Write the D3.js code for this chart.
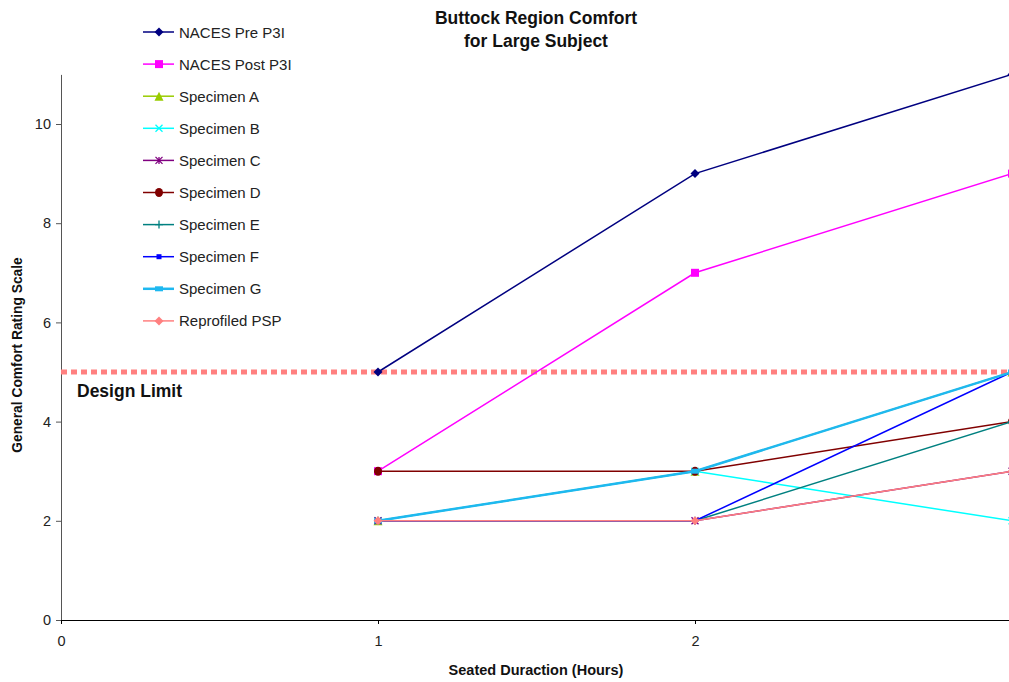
<!DOCTYPE html>
<html>
<head>
<meta charset="utf-8">
<script src="https://cdn.jsdelivr.net/npm/d3@7"></script>
<style>
  body { margin: 0; background: #fff; }
  svg { font-family: "Liberation Sans", Arial, sans-serif; }
</style>
</head>
<body>
<div id="chart"></div>
<script>
// ---- data ----
const hours = [1, 2, 3];
const seriesNames = ["NACES Pre P3I", "NACES Post P3I", "Specimen A", "Specimen B", "Specimen C",
                     "Specimen D", "Specimen E", "Specimen F", "Specimen G", "Reprofiled PSP"];
const nacesPre   = [5, 9, 11];
const nacesPost  = [3, 7, 9];
const specimenA  = [2, 3, 5];
const specimenB  = [2, 3, 2];
const specimenC  = [2, 2, 3];
const specimenD  = [3, 3, 4];
const specimenE  = [2, 2, 4];
const specimenF  = [2, 2, 5];
const specimenG  = [2, 3, 5];
const reprofiled = [2, 2, 3];
const designLimit = 5;
const xTicks = [0, 1, 2];
const yTicks = [0, 2, 4, 6, 8, 10];

const seriesValues = [nacesPre, nacesPost, specimenA, specimenB, specimenC,
                      specimenD, specimenE, specimenF, specimenG, reprofiled];

// style per series: colour, line width, marker kind, marker size
const styles = [
  { color: "#000080", w: 1.5, marker: "diamond", size: 9 },
  { color: "#FF00FF", w: 1.5, marker: "square", size: 8 },
  { color: "#99CC00", w: 1.5, marker: "triangle", size: 9 },
  { color: "#00FFFF", w: 1.5, marker: "x", size: 7 },
  { color: "#800080", w: 1.5, marker: "star", size: 7 },
  { color: "#800000", w: 1.5, marker: "circle", size: 9 },
  { color: "#008080", w: 1.5, marker: "plus", size: 8 },
  { color: "#0000FF", w: 1.5, marker: "smallsquare", size: 5 },
  { color: "#1EB8F0", w: 2.5, marker: "bar", size: 8 },
  { color: "#FF8080", w: 1.5, marker: "diamond", size: 9 }
];

const W = 1009, H = 682;
const svg = d3.select("#chart").append("svg").attr("width", W).attr("height", H);

const x = d3.scaleLinear().domain([0, 3]).range([61, 1012]);
const y = d3.scaleLinear().domain([0, 11]).range([620, 74.4]);

// marker painter
function drawMarker(g, kind, cx, cy, s, color) {
  const h = s / 2;
  if (kind === "diamond") {
    g.append("path").attr("d", `M${cx},${cy - h}L${cx + h},${cy}L${cx},${cy + h}L${cx - h},${cy}Z`).attr("fill", color);
  } else if (kind === "square" || kind === "smallsquare") {
    g.append("rect").attr("x", cx - h).attr("y", cy - h).attr("width", s).attr("height", s).attr("fill", color);
  } else if (kind === "bar") {
    g.append("rect").attr("x", cx - h).attr("y", cy - 2.5).attr("width", s).attr("height", 5).attr("fill", color);
  } else if (kind === "triangle") {
    g.append("path").attr("d", `M${cx},${cy - h}L${cx + h},${cy + h}L${cx - h},${cy + h}Z`).attr("fill", color);
  } else if (kind === "circle") {
    g.append("ellipse").attr("cx", cx).attr("cy", cy).attr("rx", h - 0.5).attr("ry", h).attr("fill", color);
  } else {
    let d = "";
    if (kind === "x" || kind === "star") d += `M${cx - h},${cy - h}L${cx + h},${cy + h}M${cx - h},${cy + h}L${cx + h},${cy - h}`;
    if (kind === "plus" || kind === "star") d += `M${cx},${cy - h}L${cx},${cy + h}`;
    if (kind === "plus") d += `M${cx - h},${cy}L${cx + h},${cy}`;
    g.append("path").attr("d", d).attr("stroke", color).attr("stroke-width", 1.3).attr("fill", "none");
  }
}

// ---- title ----
const title = svg.append("text").attr("x", 536).attr("y", 24).attr("text-anchor", "middle")
  .attr("font-size", 17.5).attr("font-weight", "bold").attr("fill", "#111");
title.append("tspan").attr("x", 536).text("Buttock Region Comfort");
title.append("tspan").attr("x", 536).attr("dy", 23).text("for Large Subject");

// ---- axes ----
const yAxis = svg.append("g").attr("transform", `translate(${x(0)},0)`)
  .call(d3.axisLeft(y).tickValues(yTicks).tickSize(5).tickSizeOuter(0).tickPadding(5));
yAxis.select(".domain").attr("stroke", "#555");
yAxis.selectAll(".tick line").attr("stroke", "#555");
yAxis.selectAll("text").attr("font-size", 14.5).attr("font-family", "Liberation Sans, Arial").attr("fill", "#222");

const xAxis = svg.append("g").attr("transform", `translate(0,${y(0)})`)
  .call(d3.axisBottom(x).tickValues(xTicks).tickSize(4).tickSizeOuter(0).tickPadding(12).tickFormat(d3.format("d")));
xAxis.select(".domain").attr("stroke", "#000");
xAxis.selectAll("text").attr("font-size", 14.5).attr("font-family", "Liberation Sans, Arial").attr("fill", "#222");

svg.append("text").attr("transform", `translate(22,355) rotate(-90)`).attr("text-anchor", "middle")
  .attr("font-size", 13.8).attr("font-weight", "bold").attr("fill", "#111").text("General Comfort Rating Scale");
svg.append("text").attr("x", 536).attr("y", 675).attr("text-anchor", "middle")
  .attr("font-size", 14.5).attr("font-weight", "bold").attr("fill", "#111").text("Seated Duraction (Hours)");

// ---- design limit ----
svg.append("line").attr("x1", x(0)).attr("x2", W).attr("y1", y(designLimit)).attr("y2", y(designLimit))
  .attr("stroke", "#FF8080").attr("stroke-width", 5).attr("stroke-dasharray", "6,4");
svg.append("text").attr("x", 77).attr("y", 397).attr("font-size", 17.5).attr("font-weight", "bold")
  .attr("fill", "#111").text("Design Limit");

// ---- series ----
const line = d3.line().x((d, i) => x(hours[i])).y(d => y(d));
const plot = svg.append("g");
seriesValues.forEach((vals, k) => {
  const st = styles[k];
  const g = plot.append("g");
  g.append("path").datum(vals).attr("d", line).attr("fill", "none")
    .attr("stroke", st.color).attr("stroke-width", st.w);
  vals.forEach((v, i) => drawMarker(g, st.marker, x(hours[i]), y(v), st.size, st.color));
});

// ---- legend ----
const legend = svg.append("g");
seriesNames.forEach((name, k) => {
  const st = styles[k];
  const ly = 32 + k * 32.1;
  const g = legend.append("g");
  g.append("line").attr("x1", 143).attr("x2", 174).attr("y1", ly).attr("y2", ly)
    .attr("stroke", st.color).attr("stroke-width", st.w);
  drawMarker(g, st.marker, 159, ly, st.size, st.color);
  g.append("text").attr("x", 179).attr("y", ly + 5.5).attr("font-size", 15).attr("fill", "#222").text(name);
});
</script>
</body>
</html>
